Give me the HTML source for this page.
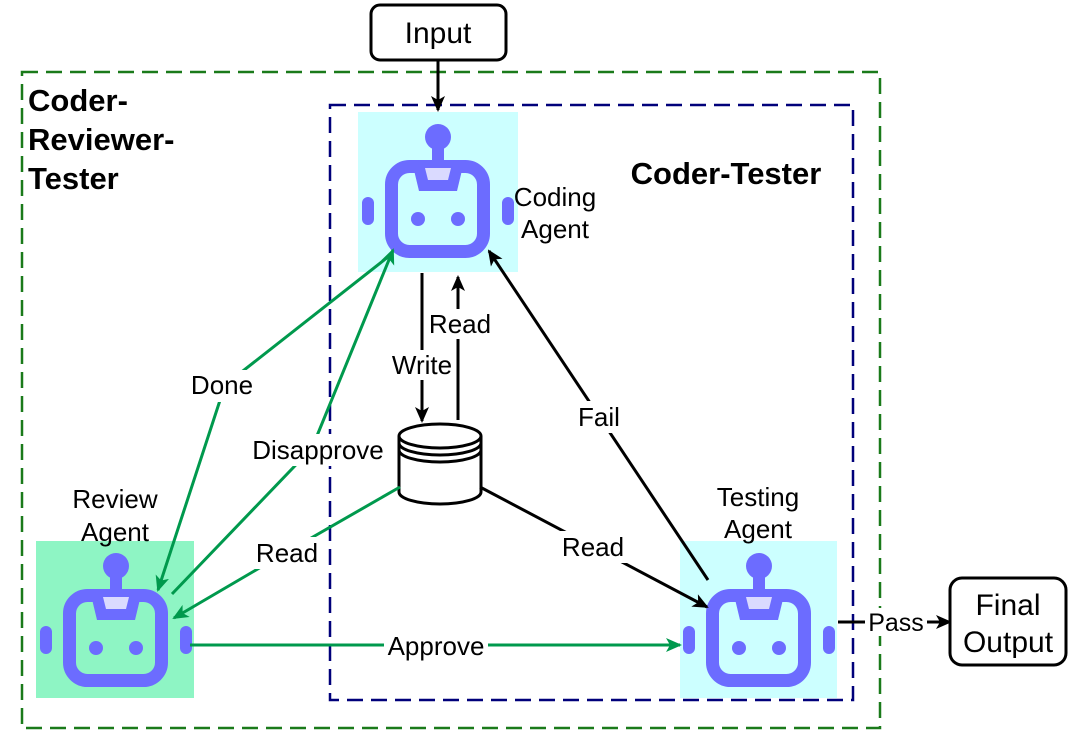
<!DOCTYPE html>
<html><head><meta charset="utf-8"><style>
html,body{margin:0;padding:0;background:#fff}
svg{display:block;font-family:"Liberation Sans",sans-serif}
</style></head><body>
<svg width="1070" height="741" viewBox="0 0 1070 741" xmlns="http://www.w3.org/2000/svg">
<defs>
<marker id="ab" markerWidth="16" markerHeight="14" refX="14" refY="7" orient="auto" markerUnits="userSpaceOnUse"><path d="M0,0 L16,7 L0,14 L4,7 z" fill="#000"/></marker>
<marker id="ag" markerWidth="16" markerHeight="14" refX="14" refY="7" orient="auto" markerUnits="userSpaceOnUse"><path d="M0,0 L16,7 L0,14 L4,7 z" fill="#00994d"/></marker>
<g id="bot">
<circle cx="80" cy="25" r="13" fill="#6c6cff"/>
<rect x="74" y="35" width="12" height="16" fill="#6c6cff"/>
<rect x="33.5" y="54.5" width="92" height="85" rx="18" fill="none" stroke="#6c6cff" stroke-width="13"/>
<path d="M55,54 L105,54 L99,79 L61,79 z" fill="#6c6cff"/>
<path d="M67,56 L93,56 L90,68 L70,68 z" fill="#fff" opacity="0.75"/>
<circle cx="60" cy="107" r="7" fill="#6c6cff"/>
<circle cx="100" cy="107" r="7" fill="#6c6cff"/>
<rect x="4" y="85" width="12" height="28" rx="6" fill="#6c6cff"/>
<rect x="144" y="85" width="12" height="28" rx="6" fill="#6c6cff"/>
</g>
</defs>
<rect x="22" y="72" width="858" height="656" fill="none" stroke="#1a7a1a" stroke-width="2.5" stroke-dasharray="16,8"/>
<rect x="330" y="105" width="523" height="595" fill="none" stroke="#00007a" stroke-width="2.5" stroke-dasharray="16,8"/>
<rect x="371" y="5" width="135" height="55" rx="9" fill="#fff" stroke="#000" stroke-width="3"/>
<text x="438" y="43" font-size="30" text-anchor="middle">Input</text>
<line x1="438" y1="60" x2="438" y2="110" stroke="#000" stroke-width="3" marker-end="url(#ab)"/>
<rect x="358" y="112" width="160" height="160" fill="#ccffff"/>
<use href="#bot" x="358" y="112"/>
<rect x="36" y="541" width="158" height="157" fill="#8ef5c4"/>
<use href="#bot" x="36" y="541"/>
<rect x="680" y="541" width="157" height="157" fill="#ccffff"/>
<use href="#bot" x="679" y="541"/>
<text x="28" y="111" font-size="31" font-weight="bold">Coder-</text>
<text x="28" y="150" font-size="31" font-weight="bold">Reviewer-</text>
<text x="28" y="189" font-size="31" font-weight="bold">Tester</text>
<text x="726" y="184" font-size="31" font-weight="bold" text-anchor="middle">Coder-Tester</text>
<text x="555" y="206" font-size="26" text-anchor="middle">Coding</text>
<text x="555" y="238" font-size="26" text-anchor="middle">Agent</text>
<text x="115" y="508" font-size="26" text-anchor="middle">Review</text>
<text x="115" y="541" font-size="26" text-anchor="middle">Agent</text>
<text x="758" y="506" font-size="26" text-anchor="middle">Testing</text>
<text x="758" y="538" font-size="26" text-anchor="middle">Agent</text>
<path d="M399,436 L399,492 A41,12 0 0 0 481,492 L481,436" fill="#fff" stroke="#000" stroke-width="3"/>
<ellipse cx="440" cy="436" rx="41" ry="12" fill="#fff" stroke="#000" stroke-width="3"/>
<path d="M399,443 A41,12 0 0 0 481,443 M399,450 A41,12 0 0 0 481,450" fill="none" stroke="#000" stroke-width="3"/>
<line x1="422" y1="273" x2="422" y2="421" stroke="#000" stroke-width="3" marker-end="url(#ab)"/>
<line x1="458" y1="420" x2="458" y2="277" stroke="#000" stroke-width="3" marker-end="url(#ab)"/>
<rect x="390" y="350" width="66" height="30" fill="#fff"/>
<text x="422" y="374" font-size="26" text-anchor="middle">Write</text>
<rect x="426" y="309" width="66" height="30" fill="#fff"/>
<text x="460" y="333" font-size="26" text-anchor="middle">Read</text>
<polyline points="388,257 225,385 158,590" fill="none" stroke="#00994d" stroke-width="3" marker-end="url(#ag)"/>
<polyline points="172,594 312,448 393,250" fill="none" stroke="#00994d" stroke-width="3" marker-end="url(#ag)"/>
<polyline points="400,487 285,553 174,618" fill="none" stroke="#00994d" stroke-width="3" marker-end="url(#ag)"/>
<line x1="190" y1="645" x2="680" y2="645" stroke="#00994d" stroke-width="3" marker-end="url(#ag)"/>
<line x1="480" y1="487" x2="707" y2="607" stroke="#000" stroke-width="3" marker-end="url(#ab)"/>
<line x1="708" y1="580" x2="489" y2="251" stroke="#000" stroke-width="3" marker-end="url(#ab)"/>
<line x1="838" y1="622" x2="950" y2="622" stroke="#000" stroke-width="3" marker-end="url(#ab)"/>
<rect x="186" y="370" width="74" height="32" fill="#fff"/>
<text x="222" y="394" font-size="26" text-anchor="middle">Done</text>
<rect x="248" y="434" width="140" height="32" fill="#fff"/>
<text x="318" y="459" font-size="26" text-anchor="middle">Disapprove</text>
<rect x="252" y="537" width="70" height="32" fill="#fff"/>
<text x="287" y="562" font-size="26" text-anchor="middle">Read</text>
<rect x="384" y="630" width="104" height="32" fill="#fff"/>
<text x="436" y="655" font-size="26" text-anchor="middle">Approve</text>
<rect x="558" y="531" width="70" height="32" fill="#fff"/>
<text x="593" y="556" font-size="26" text-anchor="middle">Read</text>
<rect x="573" y="401" width="54" height="32" fill="#fff"/>
<text x="599" y="426" font-size="26" text-anchor="middle">Fail</text>
<rect x="865" y="608" width="62" height="28" fill="#fff"/>
<text x="896" y="631" font-size="25" text-anchor="middle">Pass</text>
<rect x="950" y="578" width="116" height="87" rx="12" fill="#fff" stroke="#000" stroke-width="3"/>
<text x="1008" y="615" font-size="30" text-anchor="middle">Final</text>
<text x="1008" y="652" font-size="30" text-anchor="middle">Output</text>
</svg>
</body></html>
